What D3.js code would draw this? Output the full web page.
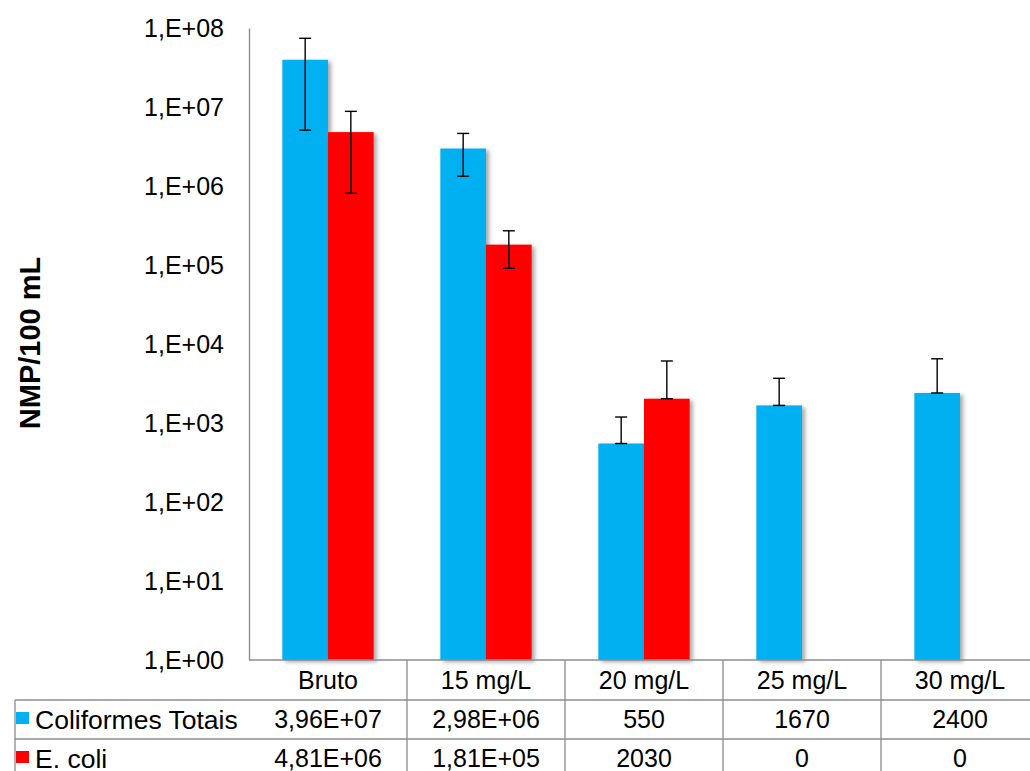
<!DOCTYPE html>
<html>
<head>
<meta charset="utf-8">
<script src="https://cdn.jsdelivr.net/npm/d3@7"></script>
<style>
  html, body { margin: 0; padding: 0; background: #fff; }
  svg { display: block; font-family: "Liberation Sans", Arial, sans-serif; }
</style>
</head>
<body>
<svg id="chart" width="1030" height="771"></svg>
<script>
const categories = ["Bruto", "15 mg/L", "20 mg/L", "25 mg/L", "30 mg/L"];
const seriesNames = ["Coliformes Totais", "E. coli"];
const coliformes = [3.96e7, 2.98e6, 550, 1670, 2400];
const ecoli = [4.81e6, 1.81e5, 2030, 0, 0];
const coliformesErr = [3.45e7, 1.65e6, 640, 2010, 4100];
const ecoliErr = [4.0e6, 9.0e4, 4065, 0, 0];
const yTickValues = [1, 1e1, 1e2, 1e3, 1e4, 1e5, 1e6, 1e7, 1e8];
const colors = ["#00B0F0", "#FF0000"];

(function () {
const svg = d3.select("#chart");
const pLeft = 249, pRight = 1039, pTop = 28, pBottom = 660;
const rowH = 39;
const fs = 25;

const defs = svg.append("defs");
const f = defs.append("filter").attr("id", "shadow")
  .attr("x", "-20%").attr("y", "-5%").attr("width", "150%").attr("height", "120%");
f.append("feDropShadow").attr("dx", 3).attr("dy", 2).attr("stdDeviation", 2.2)
  .attr("flood-color", "#000").attr("flood-opacity", 0.35);

const x = d3.scaleBand().domain(categories).range([pLeft, pRight]).padding(0);
const y = d3.scaleLog().domain([1, 1e8]).range([pBottom, pTop]);
const groupW = x.bandwidth() * 0.578;
const xs = d3.scaleBand().domain(seriesNames).range([0, groupW]).padding(0);

// Y axis
const yAxis = d3.axisLeft(y).tickValues(yTickValues).tickSize(0).tickPadding(25)
  .tickFormat(d => "1,E+" + String(Math.round(Math.log10(d))).padStart(2, "0"));
const gy = svg.append("g").attr("transform", `translate(${pLeft},0)`).call(yAxis);
gy.select(".domain").attr("stroke", "#888").attr("stroke-width", 1.3);
gy.selectAll("text").attr("font-size", fs).attr("fill", "#000")
  .attr("font-family", "Liberation Sans, Arial, sans-serif");

// Y title
svg.append("text")
  .attr("transform", `translate(40,343) rotate(-90)`)
  .attr("text-anchor", "middle")
  .attr("font-weight", "bold").attr("font-size", 29)
  .text("NMP/100 mL");

// Bars
const seriesData = [coliformes, ecoli];
const seriesErr = [coliformesErr, ecoliErr];
seriesNames.forEach((name, si) => {
  const g = svg.append("g");
  const items = categories.map((c, i) => ({ c, v: seriesData[si][i], e: seriesErr[si][i] }))
    .filter(d => d.v > 0);
  g.selectAll("rect").data(items).enter().append("rect")
    .attr("x", d => x(d.c) + x.bandwidth() / 2 - groupW / 2 + xs(name))
    .attr("width", xs.bandwidth())
    .attr("y", d => y(d.v))
    .attr("height", d => pBottom - y(d.v))
    .attr("fill", colors[si])
    .attr("filter", "url(#shadow)");
});

// Error bars
seriesNames.forEach((name, si) => {
  const g = svg.append("g").attr("stroke", "#000").attr("stroke-width", 1.4);
  const items = categories.map((c, i) => ({ c, v: seriesData[si][i], e: seriesErr[si][i] }))
    .filter(d => d.v > 0 && d.e > 0);
  items.forEach(d => {
    const cx = x(d.c) + x.bandwidth() / 2 - groupW / 2 + xs(name) + xs.bandwidth() / 2;
    const yT = y(d.v + d.e);
    const yB = d.v - d.e > 0 ? y(d.v - d.e) : y(d.v);
    g.append("line").attr("x1", cx).attr("x2", cx).attr("y1", yT).attr("y2", yB);
    g.append("line").attr("x1", cx - 6).attr("x2", cx + 6).attr("y1", yT).attr("y2", yT);
    g.append("line").attr("x1", cx - 6).attr("x2", cx + 6).attr("y1", yB).attr("y2", yB);
  });
});

// Data table
const fmt = v => {
  if (v >= 1e5) {
    const e = Math.floor(Math.log10(v));
    const m = (v / Math.pow(10, e)).toFixed(2).replace(".", ",");
    return m + "E+" + String(e).padStart(2, "0");
  }
  return String(v);
};
const tbl = svg.append("g").attr("stroke", "#8c8c8c").attr("stroke-width", 1.3);
tbl.append("line").attr("x1", pLeft).attr("x2", 1030).attr("y1", pBottom).attr("y2", pBottom);
[1, 2, 3].forEach(r => {
  tbl.append("line").attr("x1", 15).attr("x2", 1030)
    .attr("y1", pBottom + rowH * r + 1).attr("y2", pBottom + rowH * r + 1);
});
categories.forEach(c => {
  tbl.append("line").attr("x1", x(c) + x.bandwidth()).attr("x2", x(c) + x.bandwidth())
    .attr("y1", pBottom).attr("y2", 771);
});
tbl.append("line").attr("x1", 15).attr("x2", 15).attr("y1", pBottom + rowH + 1).attr("y2", 771);

const tt = svg.append("g").attr("font-size", fs).attr("fill", "#000");
categories.forEach((c, i) => {
  const cx = x(c) + x.bandwidth() / 2;
  tt.append("text").attr("x", cx).attr("y", pBottom + 29).attr("text-anchor", "middle").text(c);
  tt.append("text").attr("x", cx).attr("y", pBottom + rowH + 29).attr("text-anchor", "middle").text(fmt(coliformes[i]));
  tt.append("text").attr("x", cx).attr("y", pBottom + rowH * 2 + 29).attr("text-anchor", "middle").text(fmt(ecoli[i]));
});
seriesNames.forEach((n, si) => {
  const ry = pBottom + rowH * (si + 1) + 1;
  tt.append("rect").attr("x", 16).attr("y", ry + 12).attr("width", 13).attr("height", 12).attr("fill", colors[si]);
  tt.append("text").attr("x", 35).attr("y", ry + 29).attr("font-size", 26.5).text(n);
});
})();
</script>
</body>
</html>
